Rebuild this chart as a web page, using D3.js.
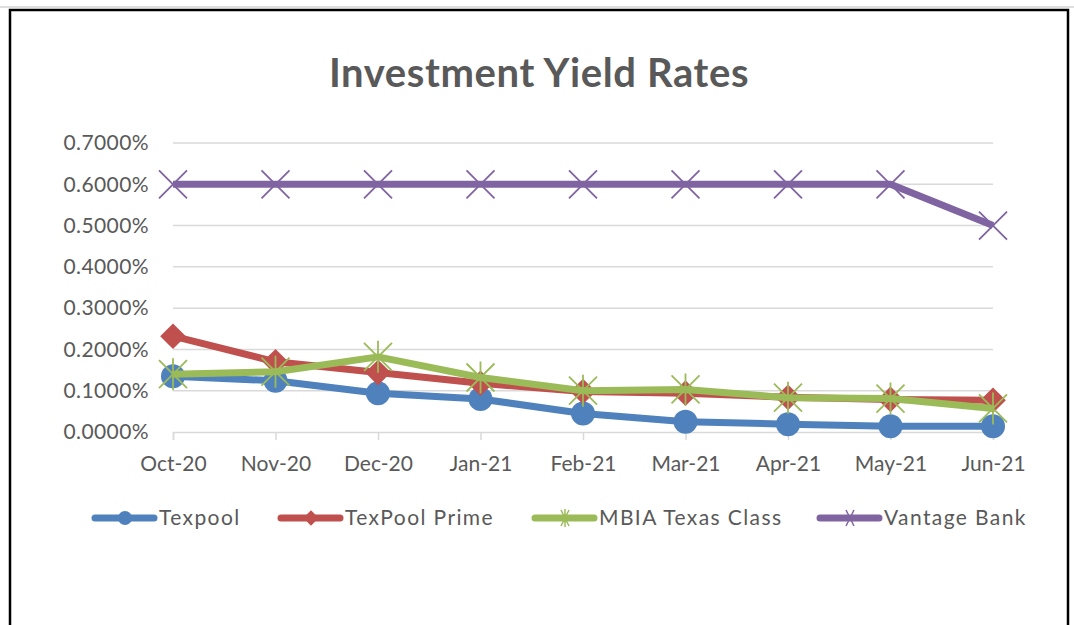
<!DOCTYPE html>
<html>
<head>
<meta charset="utf-8">
<script src="https://cdn.jsdelivr.net/npm/d3@7"></script>
<style>
  body { margin: 0; background: #fff; }
  text { font-family: Lato, "Open Sans", sans-serif; }
</style>
</head>
<body>
<div id="chart"></div>
<script>
const months = ["Oct-20","Nov-20","Dec-20","Jan-21","Feb-21","Mar-21","Apr-21","May-21","Jun-21"];
const texpool = [0.135, 0.124, 0.094, 0.080, 0.045, 0.025, 0.019, 0.014, 0.014];
const texpoolPrime = [0.232, 0.170, 0.144, 0.118, 0.098, 0.094, 0.084, 0.079, 0.077];
const mbia = [0.140, 0.146, 0.182, 0.132, 0.100, 0.103, 0.083, 0.081, 0.057];
const vantage = [0.60, 0.60, 0.60, 0.60, 0.60, 0.60, 0.60, 0.60, 0.50];
const yTicks = [0, 0.1, 0.2, 0.3, 0.4, 0.5, 0.6, 0.7];

const series = [
  { name: "Texpool", values: texpool, color: "#4F81BD", marker: "circle" },
  { name: "TexPool Prime", values: texpoolPrime, color: "#C0504D", marker: "diamond" },
  { name: "MBIA Texas Class", values: mbia, color: "#9BBB59", marker: "star" },
  { name: "Vantage Bank", values: vantage, color: "#8064A2", marker: "x" }
];

const width = 1074, height = 625;
const svg = d3.select("#chart").append("svg")
  .attr("width", width).attr("height", height);

// frame
svg.append("line").attr("x1", 0).attr("x2", width).attr("y1", 7).attr("y2", 7)
  .attr("stroke", "#bfbfbf").attr("stroke-width", 1);
svg.append("path").attr("d", "M10,625 L10,10 L1068,10 L1068,625")
  .attr("fill", "none").attr("stroke", "#000").attr("stroke-width", 2.5);

// title
svg.append("text").attr("x", 539).attr("y", 87)
  .attr("text-anchor", "middle").style("font-size", "40px").style("font-weight", "bold")
  .style("letter-spacing", "0.6px")
  .style("fill", "#595959").text("Investment Yield Rates");

const x = d3.scalePoint().domain(months).range([173, 993]);
const y = d3.scaleLinear().domain([0, 0.7]).range([432, 143]);

// grid
svg.append("g").selectAll("line").data(yTicks.filter(d => d > 0)).enter()
  .append("line")
  .attr("x1", 173).attr("x2", 993)
  .attr("y1", d => y(d)).attr("y2", d => y(d))
  .attr("stroke", "#d9d9d9").attr("stroke-width", 1.5);

// y axis labels
const yAxis = svg.append("g").attr("transform", "translate(149,0)")
  .call(d3.axisLeft(y).tickValues(yTicks).tickSize(0).tickPadding(0)
    .tickFormat(d => d3.format(".4f")(d) + "%"));
yAxis.select(".domain").remove();
yAxis.selectAll("text").style("font-size", "21px").style("fill", "#595959")
  .style("letter-spacing", "0.4px").style("font-family", "Lato, sans-serif");

// x axis
const xAxis = svg.append("g").attr("transform", "translate(0,432)")
  .call(d3.axisBottom(x).tickSize(8).tickPadding(16));
xAxis.select(".domain").attr("stroke", "#d9d9d9").attr("stroke-width", 1.5);
xAxis.selectAll(".tick line").attr("stroke", "#d9d9d9").attr("stroke-width", 1.5);
xAxis.selectAll("text").style("font-size", "21px").style("fill", "#595959")
  .style("font-family", "Lato, sans-serif");

function drawMarker(g, type, color, cx, cy) {
  if (type === "circle") {
    g.append("circle").attr("cx", cx).attr("cy", cy).attr("r", 12).attr("fill", color);
  } else if (type === "diamond") {
    g.append("path").attr("d", d3.symbol().type(d3.symbolDiamond2).size(420)())
      .attr("transform", `translate(${cx},${cy})`).attr("fill", color);
  } else if (type === "star") {
    const s = 14;
    g.append("path")
      .attr("d", `M${cx - s},${cy - s}L${cx + s},${cy + s}M${cx - s},${cy + s}L${cx + s},${cy - s}M${cx},${cy - s - 2}L${cx},${cy + s + 2}`)
      .attr("stroke", color).attr("stroke-width", 1.8).attr("fill", "none");
  } else if (type === "x") {
    const s = 14;
    g.append("path")
      .attr("d", `M${cx - s},${cy - s}L${cx + s},${cy + s}M${cx - s},${cy + s}L${cx + s},${cy - s}`)
      .attr("stroke", color).attr("stroke-width", 1.8).attr("fill", "none");
  }
}

const line = d3.line().x((d, i) => x(months[i])).y(d => y(d));

series.forEach(s => {
  const g = svg.append("g");
  g.append("path").datum(s.values).attr("d", line)
    .attr("fill", "none").attr("stroke", s.color).attr("stroke-width", 7)
    .attr("stroke-linejoin", "round");
  s.values.forEach((v, i) => drawMarker(g, s.marker, s.color, x(months[i]), y(v)));
});

// legend
const legendX = [95, 281, 535, 820];
series.forEach((s, i) => {
  const g = svg.append("g");
  const lx = legendX[i], ly = 518;
  g.append("line").attr("x1", lx).attr("x2", lx + 59).attr("y1", ly).attr("y2", ly)
    .attr("stroke", s.color).attr("stroke-width", 7).attr("stroke-linecap", "round");
  const lg = g.append("g");
  if (s.marker === "circle") {
    lg.append("circle").attr("cx", lx + 30).attr("cy", ly).attr("r", 7).attr("fill", s.color);
  } else if (s.marker === "diamond") {
    lg.append("path").attr("d", d3.symbol().type(d3.symbolDiamond2).size(150)())
      .attr("transform", `translate(${lx + 30},${ly})`).attr("fill", s.color);
  } else {
    const c = lx + 30, k = 8;
    let d = `M${c - k / 2},${ly - k}L${c + k / 2},${ly + k}M${c - k / 2},${ly + k}L${c + k / 2},${ly - k}`;
    if (s.marker === "star") d += `M${c},${ly - k - 1}L${c},${ly + k + 1}`;
    lg.append("path").attr("d", d).attr("stroke", s.color).attr("stroke-width", 1.5);
  }
  g.append("text").attr("x", lx + 64).attr("y", ly).attr("dy", "0.35em")
    .style("font-size", "21px").style("letter-spacing", "1.4px")
    .style("fill", "#595959").text(s.name);
});
</script>
</body>
</html>
